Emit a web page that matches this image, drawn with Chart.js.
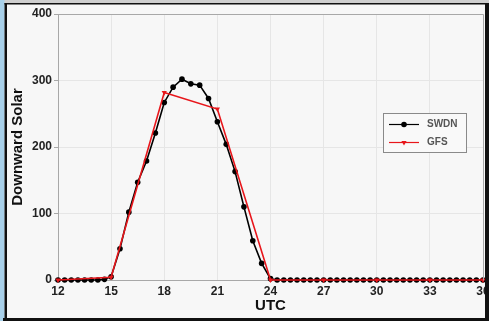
<!DOCTYPE html>
<html>
<head>
<meta charset="utf-8">
<script src="https://cdn.jsdelivr.net/npm/chart.js@4.4.1/dist/chart.umd.min.js"></script>
<style>
  html, body { margin: 0; padding: 0; background: #a9d1ea; overflow: hidden; }
  #wrap { position: absolute; left: 0; top: 0; width: 489px; height: 321px; }
</style>
</head>
<body>
<div id="wrap"><canvas id="c" width="489" height="321"></canvas></div>
<script>
// Observed downward shortwave (SWDN), hours UTC
const swdnHours = [
  12, 12.375, 12.75, 13.125, 13.5, 13.875, 14.25, 14.625, 15,
  15.5, 16, 16.5, 17, 17.5, 18, 18.5, 19, 19.5, 20, 20.5, 21, 21.5, 22, 22.5, 23, 23.5,
  24, 24.375, 24.75, 25.125, 25.5, 25.875, 26.25, 26.625, 27, 27.375, 27.75, 28.125,
  28.5, 28.875, 29.25, 29.625, 30, 30.375, 30.75, 31.125, 31.5, 31.875, 32.25, 32.625,
  33, 33.375, 33.75, 34.125, 34.5, 34.875, 35.25, 35.625, 36
];
const swdnValues = [
  0, 0, 0, 0, 0, 0, 0, 1, 5,
  47, 102, 147, 179, 221, 267, 290, 302, 295, 293, 273, 238, 204, 163, 110, 59, 25,
  2, 0, 0, 0, 0, 0, 0, 0, 0, 0, 0, 0,
  0, 0, 0, 0, 0, 0, 0, 0, 0, 0, 0, 0,
  0, 0, 0, 0, 0, 0, 0, 0, 0
];

// GFS forecast, 3-hourly
const gfsHours = [12, 15, 18, 21, 24, 27, 30, 33, 36];
const gfsValues = [0, 4, 282, 257, 0, 0, 0, 0, 0];

const xTickValues = [12, 15, 18, 21, 24, 27, 30, 33, 36];
const yTickValues = [0, 100, 200, 300, 400];

const seriesNames = ['SWDN', 'GFS'];
const seriesColors = ['#000000', '#e8161b'];

const toPoints = (xs, ys) => xs.map((x, i) => ({ x: x, y: ys[i] }));

const TICK_FONT = { family: 'Liberation Sans, Arial, sans-serif', size: 12, weight: 'bold' };
const TITLE_FONT = { family: 'Liberation Sans, Arial, sans-serif', size: 15, weight: 'bold' };

// panel background
const backgroundPlugin = {
  id: 'panelBackground',
  beforeDraw(chart) {
    const ctx = chart.ctx;
    ctx.save();
    ctx.fillStyle = '#f7f7f7';
    ctx.fillRect(0, 0, chart.width, chart.height);
    ctx.restore();
  }
};

// plot outline, inset legend and window frame
const framePlugin = {
  id: 'panelFrame',
  afterDraw(chart) {
    const ctx = chart.ctx;
    const a = chart.chartArea;
    ctx.save();

    // top and right edges of the plot box
    ctx.strokeStyle = '#a8a8a8';
    ctx.lineWidth = 1;
    ctx.beginPath();
    ctx.moveTo(Math.round(a.left) + 0.5, Math.round(a.top) + 0.5);
    ctx.lineTo(Math.round(a.right) + 0.5, Math.round(a.top) + 0.5);
    ctx.lineTo(Math.round(a.right) + 0.5, Math.round(a.bottom) + 0.5);
    ctx.stroke();

    // inset legend
    const lx = 383.5, ly = 113.5, lw = 83, lh = 39;
    ctx.fillStyle = '#f9f9f9';
    ctx.fillRect(lx, ly, lw, lh);
    ctx.strokeStyle = '#8a8a8a';
    ctx.strokeRect(lx, ly, lw, lh);
    chart.data.datasets.forEach((ds, i) => {
      const y = 124.5 + i * 18;
      ctx.strokeStyle = ds.borderColor;
      ctx.lineWidth = 1.2;
      ctx.beginPath();
      ctx.moveTo(389, y);
      ctx.lineTo(419, y);
      ctx.stroke();
      ctx.fillStyle = ds.borderColor;
      Chart.helpers.drawPoint(ctx, {
        pointStyle: ds.pointStyle, rotation: ds.rotation || 0,
        radius: ds.pointRadius, borderWidth: 0
      }, 404, y);
      ctx.fillStyle = '#555';
      ctx.font = 'bold 10px Liberation Sans, Arial, sans-serif';
      ctx.textBaseline = 'middle';
      ctx.textAlign = 'left';
      ctx.fillText(ds.label, 427, y);
    });

    // window frame
    ctx.fillStyle = '#cfcfcf';
    ctx.fillRect(0, 0, chart.width, 3);
    ctx.fillStyle = '#a9d1ea';
    ctx.fillRect(0, 0, 4.5, chart.height);
    ctx.fillStyle = '#111';
    ctx.fillRect(4.5, 3, 2.5, 318);
    ctx.fillRect(4.5, 3, 485, 1.5);
    ctx.fillRect(485, 3, 4, 318);
    ctx.fillRect(3, 318, 486, 3);
    ctx.restore();
  }
};

new Chart(document.getElementById('c'), {
  type: 'line',
  data: {
    datasets: [
      {
        label: seriesNames[0],
        data: toPoints(swdnHours, swdnValues),
        borderColor: seriesColors[0],
        backgroundColor: seriesColors[0],
        borderWidth: 1.6,
        pointStyle: 'circle',
        pointRadius: 2.8,
        pointBorderWidth: 0,
        tension: 0,
        clip: false,
        order: 2
      },
      {
        label: seriesNames[1],
        data: toPoints(gfsHours, gfsValues),
        borderColor: seriesColors[1],
        backgroundColor: seriesColors[1],
        borderWidth: 1.6,
        pointStyle: 'triangle',
        rotation: 180,
        pointRadius: 3,
        pointBorderWidth: 0,
        tension: 0,
        clip: false,
        order: 1
      }
    ]
  },
  options: {
    responsive: false,
    devicePixelRatio: 1,
    animation: false,
    events: [],
    layout: { padding: { left: 0, top: 14, right: 6, bottom: 0 } },
    plugins: {
      legend: { display: false },
      tooltip: { enabled: false },
      title: { display: false }
    },
    scales: {
      x: {
        type: 'linear',
        min: 12,
        max: 36,
        afterBuildTicks(scale) { scale.ticks = xTickValues.map(v => ({ value: v })); },
        afterFit(scale) { scale.height = 41; scale.paddingLeft = 0; scale.paddingRight = 0; },
        ticks: { font: TICK_FONT, color: '#222', padding: 4, maxRotation: 0, autoSkip: false },
        grid: { color: '#e6e6e6', drawTicks: false },
        border: { color: '#a8a8a8', width: 1 },
        title: { display: true, text: 'UTC', font: TITLE_FONT, color: '#111', padding: { top: 0, bottom: 6 } }
      },
      y: {
        type: 'linear',
        min: 0,
        max: 400,
        afterBuildTicks(scale) { scale.ticks = yTickValues.map(v => ({ value: v })); },
        afterFit(scale) { scale.width = 58; },
        ticks: { font: TICK_FONT, color: '#222', padding: 2 },
        grid: { color: '#e6e6e6', tickColor: '#a8a8a8', tickLength: 4 },
        border: { color: '#a8a8a8', width: 1 },
        title: { display: true, text: 'Downward Solar', font: TITLE_FONT, color: '#111', padding: { top: 9, bottom: 0 } }
      }
    }
  },
  plugins: [backgroundPlugin, framePlugin]
});
</script>
</body>
</html>
